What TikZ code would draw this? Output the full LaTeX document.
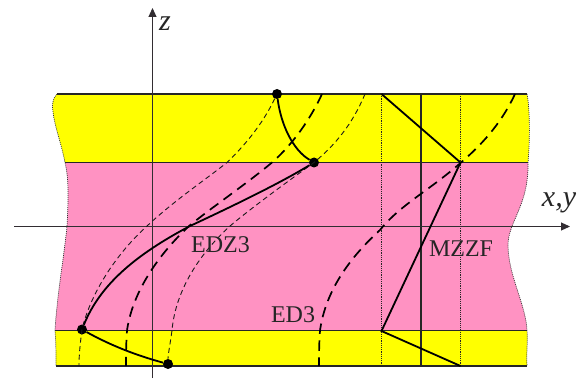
\documentclass[tikz,border=0pt]{standalone}
\usepackage{fontspec}
\setmainfont{Liberation Serif}
\usetikzlibrary{arrows.meta}
\definecolor{bandpink}{RGB}{255,146,194}
\definecolor{bandyellow}{RGB}{255,255,0}
\definecolor{axisgray}{RGB}{50,45,50}
\tikzset{
  axisline/.style={draw=axisgray,line width=1.1pt},
  bandline/.style={draw=black!85,line width=1.2pt},
  thinrule/.style={draw=black!85,line width=1.1pt},
  dotrule/.style={draw=black!85,line width=0.9pt,dash pattern=on 1.2pt off 1pt},
  edgedot/.style={draw=black!80,line width=0.7pt,dash pattern=on 1pt off 1pt},
  curvethin/.style={draw=black!90,line width=0.9pt,dash pattern=on 5pt off 3.5pt},
  curvethick/.style={draw=black,line width=1.7pt,dash pattern=on 10.5pt off 6.5pt},
  curvesolid/.style={draw=black,line width=1.8pt},
  blackdot/.style={circle,fill=black,inner sep=0pt,minimum size=10pt},
  lab/.style={inner sep=0pt,text=black!85,font=\fontsize{24}{26}\selectfont},
  axlab/.style={inner sep=0pt,text=black!85,font=\fontsize{30}{32}\selectfont\itshape}
}
\begin{document}
\begin{tikzpicture}[x=1pt,y=-1pt]
\useasboundingbox (0,0) rectangle (577,379);
% bands
\fill[bandyellow] (57,94) .. controls (52,99) and (52,106) .. (53,112) .. controls (55,128) and (61,142) .. (65,162.5) -- (528,162.5) .. controls (530,140) and (530,110) .. (527,94) -- cycle;
\fill[bandpink] (65,162.5) .. controls (68,175) and (69,190) .. (67,226) .. controls (65,250) and (57,295) .. (55,330.5) -- (527,330.5) .. controls (526,305) and (508,275) .. (508,245) .. controls (508,222) and (529,205) .. (528,162.5) -- cycle;
\fill[bandyellow] (55,330.5) .. controls (56,342) and (56,355) .. (56,366) -- (527,366) .. controls (526,355) and (528,342) .. (527,330.5) -- cycle;
% edges
\draw[edgedot] (57,94) .. controls (52,99) and (52,106) .. (53,112) .. controls (55,128) and (61,142) .. (65,162.5) .. controls (68,175) and (69,190) .. (67,226) .. controls (65,250) and (57,295) .. (55,330.5) .. controls (56,342) and (56,355) .. (56,366);
\draw[edgedot] (527,94) .. controls (530,110) and (530,140) .. (528,162.5) .. controls (529,205) and (508,222) .. (508,245) .. controls (508,275) and (526,305) .. (527,330.5) .. controls (528,342) and (526,355) .. (527,366);
% band lines
\draw[bandline] (57,94) -- (527,94);
\draw[bandline] (65,162.5) -- (528,162.5);
\draw[bandline] (55,330.5) -- (527,330.5);
\draw[bandline] (56,366) -- (527,366);
% MZZF verticals
\draw[dotrule] (381.5,94) -- (381.5,366);
\draw[dotrule] (460.5,94) -- (460.5,366);
\draw[thinrule] (421,94) -- (421,366);
% axes
\coordinate (zs) at (152.5,378);
\coordinate (ze) at (152.5,8);
\coordinate (xs) at (14,226.5);
\coordinate (xe) at (570,226.5);
\draw[axisline,-{Triangle[length=9pt,width=8pt]}] (zs) -- (ze);
\draw[axisline,-{Triangle[length=9pt,width=8pt]}] (xs) -- (xe);
% dots
\node[blackdot] (a) at (277,94) {};
\node[blackdot] (b) at (314,162.5) {};
\node[blackdot] (c) at (82,329.5) {};
\node[blackdot] (d) at (168,364) {};
% thin dashed
\draw[curvethin] (a) .. controls (262,125) and (245,145) .. (227,162.5) .. controls (205,180) and (175,200) .. (147,226) .. controls (115,255) and (90,295) .. (82,329.5) .. controls (80,345) and (79,355) .. (79,366);
\draw[curvethin] (365,94) .. controls (352,125) and (335,145) .. (314,162.5) .. controls (290,180) and (255,205) .. (230,226) .. controls (195,258) and (175,295) .. (172,330.5) .. controls (170,345) and (168,355) .. (d);
% thick dashed
\draw[curvethick] (322,94) .. controls (310,120) and (292,145) .. (272,162.5) .. controls (245,185) and (215,205) .. (189,226) .. controls (155,258) and (132,295) .. (127,330.5) .. controls (126,345) and (126,355) .. (126,366);
\draw[curvethick] (515,94) .. controls (503,120) and (485,142) .. (461,162.5) .. controls (430,190) and (400,205) .. (380,230) .. controls (345,262) and (325,295) .. (320,330.5) .. controls (319,345) and (319,355) .. (319,366);
% solid
\draw[curvesolid] (a) .. controls (281,125) and (293,150) .. (b);
\draw[curvesolid] (b) .. controls (285,180) and (250,198) .. (190,226) .. controls (135,255) and (100,285) .. (c);
\draw[curvesolid] (c) .. controls (110,345) and (135,355) .. (d);
% MZZF zigzag
\draw[curvesolid] (381.5,94) -- (460.5,162.5) -- (381.5,331) -- (460.5,366);
% labels
\node[lab,anchor=center] (l1) at (220.5,245) {EDZ3};
\node[lab,anchor=center] (l2) at (461,249) {MZZF};
\node[lab,anchor=center] (l3) at (293,315) {ED3};
\node[axlab] (l4) at (165,24) {z};
\node[axlab] (l5) at (559,203) {x,y};
\end{tikzpicture}
\end{document}
